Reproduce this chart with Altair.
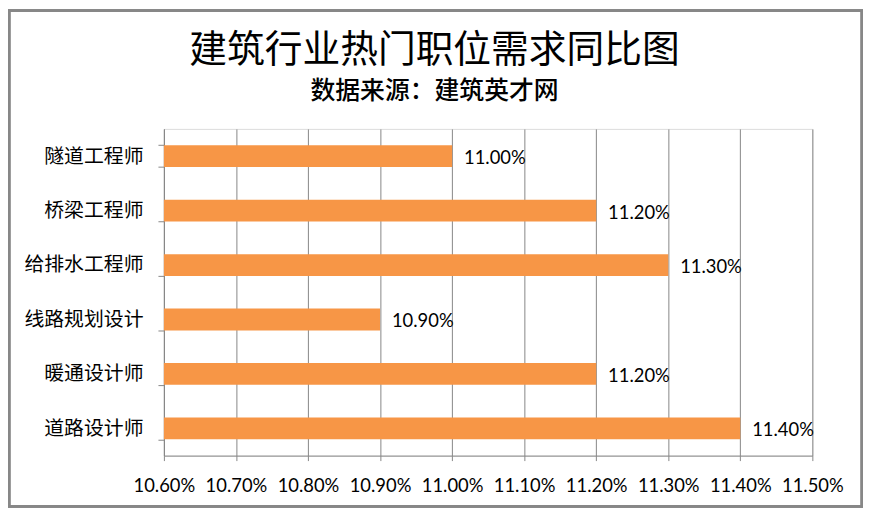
import altair as alt
import pandas as pd

categories = ["隧道工程师", "桥梁工程师", "给排水工程师", "线路规划设计", "暖通设计师", "道路设计师"]
values = [0.1100, 0.1120, 0.1130, 0.1090, 0.1120, 0.1140]
tick_values = [0.106, 0.107, 0.108, 0.109, 0.110, 0.111, 0.112, 0.113, 0.114, 0.115]
title_text = "建筑行业热门职位需求同比图"
subtitle_text = "数据来源：建筑英才网"

df = pd.DataFrame({"job": categories, "value": values})

W, H = 653, 329
PL, PT, PR, PB = 157, 120, 51, 52

cjk = "Noto Sans CJK SC"
num_font = "Lato"
gray = "#878787"

x_enc = alt.X(
    "value:Q",
    scale=alt.Scale(domain=[tick_values[0], tick_values[-1]], zero=False, nice=False),
    axis=alt.Axis(
        values=tick_values, format=".2%", title=None, grid=True, gridColor=gray,
        gridWidth=1, domainColor=gray, tickColor=gray, tickSize=5,
        labelFont=num_font, labelFontSize=18.5, labelColor="black", labelPadding=16,
        labelOverlap=False, labelFlush=False,
    ),
)
y_enc = alt.Y(
    "job:N", sort=categories,
    scale=alt.Scale(paddingInner=0.6, paddingOuter=0.3),
    axis=alt.Axis(
        title=None, domainColor=gray, tickColor=gray, tickSize=6, tickBand="extent",
        labelFont=cjk, labelFontSize=20, labelColor="black", labelPadding=15,
        grid=False,
    ),
)

bars = alt.Chart(df).mark_bar(color="#F79646").encode(
    x=x_enc, x2=alt.datum(tick_values[0]), y=y_enc
)
labels = alt.Chart(df).mark_text(
    align="left", baseline="middle", dx=12, dy=2, font=num_font, fontSize=18.5, color="black"
).encode(x="value:Q", y=alt.Y("job:N", sort=categories), text=alt.Text("value:Q", format=".2%"))

border = alt.Chart(df).mark_rect(fill=None, stroke=gray, strokeWidth=2.5).encode(
    x=alt.value(-PL + 1), x2=alt.value(W + PR - 1), y=alt.value(-PT + 1), y2=alt.value(H + PB - 1)
)

chart = (
    alt.layer(border, bars, labels)
    .properties(
        width=W, height=H,
        padding={"left": PL, "top": PT, "right": PR, "bottom": PB},
        autosize=alt.AutoSizeParams(type="none"),
        title=alt.TitleParams(
            text=title_text, subtitle=subtitle_text, anchor="middle", frame="bounds", dx=-1,
            font=cjk, fontSize=38, fontWeight="normal", color="black",
            subtitleFont=cjk, subtitleFontSize=25, subtitleFontWeight=500,
            subtitleColor="black", subtitlePadding=9, offset=-95,
        ),
    )
    .configure_view(stroke=None)
    .configure(background="white")
)

chart.save("out.html", embed_options={"renderer": "svg", "actions": False})
